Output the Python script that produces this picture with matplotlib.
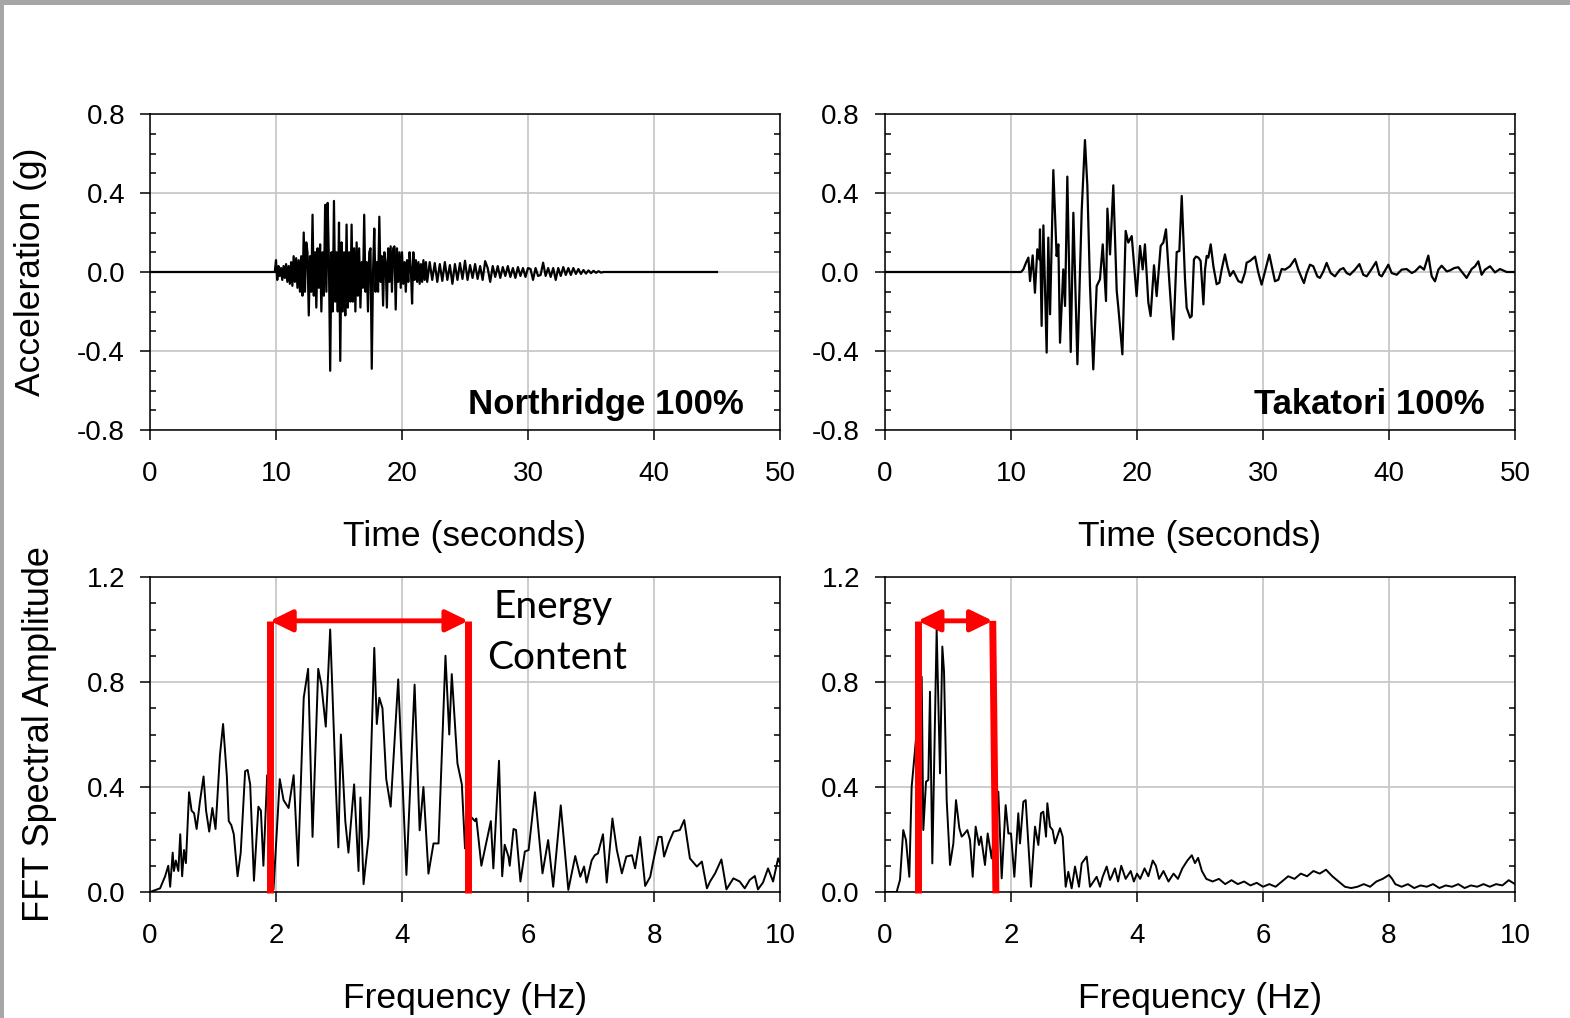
import numpy as np
import matplotlib
matplotlib.use("Agg")
import matplotlib.pyplot as plt
from matplotlib.ticker import MultipleLocator, FormatStrFormatter
from matplotlib.patches import Rectangle

plt.rcParams["font.family"] = ["Liberation Sans", "DejaVu Sans"]
plt.rcParams["axes.unicode_minus"] = False

# ---- Northridge acceleration (g) ----
nr_quiet_t = [0.0, 9.9]
nr_quiet_a = [0.0, 0.0]
# 10.0 s .. 22.0 s, every 0.1 s
nr_strong_a = [
    0.06, -0.04, 0.03, -0.02, 0.02, -0.04, 0.03, -0.03, 0.04, -0.05,
    0.03, -0.06, 0.05, -0.07, 0.08, -0.05, 0.07, -0.08, 0.06, -0.10,
    0.08, -0.12, 0.20, -0.10, 0.15, 0.10, -0.22, 0.08, -0.10, 0.29,
    -0.12, 0.10, -0.18, 0.12, -0.08, 0.14, -0.20, 0.10, -0.12, 0.34,
    -0.10, 0.35, 0.05, -0.50, 0.10, -0.20, 0.36, -0.15, 0.10, -0.20,
    0.25, -0.45, 0.15, -0.20, 0.10, -0.22, 0.24, -0.18, 0.10, -0.15,
    0.24, -0.15, 0.12, -0.20, 0.15, -0.12, 0.12, -0.18, 0.05, -0.08,
    0.29, -0.10, 0.05, -0.20, 0.10, 0.12, -0.49, 0.00, 0.22, -0.10,
    0.05, -0.10, 0.28, -0.05, 0.08, -0.17, 0.10, 0.05, -0.18, 0.12,
    -0.05, 0.13, -0.10, 0.12, 0.13, -0.19, 0.12, -0.05, 0.10, -0.08,
    0.10, -0.06, 0.05, -0.10, 0.06, -0.05, 0.10, 0.02, -0.16, 0.10,
    -0.04, 0.06, -0.05, 0.05, -0.06, 0.04, -0.05, 0.06, -0.04, 0.05,
    -0.05,
]
# 22.2 s .. 36.0 s, every 0.2 s
nr_coda_a = [
    0.05, -0.04, 0.045, -0.05, 0.04, -0.045, 0.05, -0.04, 0.035, -0.06,
    0.04, -0.04, 0.045, -0.035, 0.057, -0.04, 0.035, -0.03, 0.04, -0.035,
    0.03, -0.04, 0.055, 0.02, -0.05, 0.03, -0.025, 0.03, -0.03, 0.025,
    -0.02, 0.03, -0.025, 0.02, -0.03, 0.025, -0.02, 0.02, -0.025, 0.02,
    0.015, -0.04, 0.02, -0.02, -0.015, 0.047, -0.02, 0.02, -0.025, 0.02,
    -0.04, 0.02, -0.02, 0.025, -0.015, 0.02, -0.015, 0.02, -0.01, 0.015,
    -0.01, 0.01, -0.008, 0.008, -0.006, 0.006, -0.004, 0.004, -0.003, 0.0,
]
nr_end_t = [36.2, 45.0]
nr_end_a = [0.0, 0.0]

# ---- Takatori acceleration (g) ----
tk_t = [0.0, 10.8, 10.98, 11.19, 11.38, 11.51, 11.72, 11.90, 12.09, 12.25,
        12.30, 12.43, 12.57, 12.83, 12.96, 13.10, 13.36, 13.62, 13.76, 13.89,
        14.15, 14.29, 14.47, 14.74, 14.95, 15.27, 15.61, 15.87, 16.06, 16.27,
        16.53, 16.80, 17.06, 17.28, 17.54, 17.65, 17.86, 18.12, 18.39, 18.52,
        18.84, 19.10, 19.31, 19.58, 19.97, 20.24, 20.45, 20.63, 20.90, 21.08,
        21.35, 21.56, 21.88, 22.09, 22.30, 22.57, 22.88, 23.15, 23.36, 23.55,
        23.81, 23.94, 24.21, 24.34, 24.52, 24.68, 24.87, 25.05, 25.27, 25.40,
        25.53, 25.66, 25.85, 26.06, 26.32, 26.54, 26.72, 26.98, 27.17, 27.38,
        27.65, 28.04, 28.31, 28.57, 28.70, 28.97, 29.37, 29.63, 29.89, 30.50,
        30.95, 31.22, 31.48, 31.75, 32.14, 32.54, 32.80, 33.07, 33.25, 33.47,
        33.73, 33.99, 34.31, 34.52, 34.79, 35.05, 35.37, 35.71, 36.11, 36.38,
        36.64, 36.90, 37.30, 37.65, 37.96, 38.23, 38.62, 38.97, 39.23, 39.42,
        39.95, 40.21, 40.61, 41.01, 41.40, 41.80, 42.06, 42.46, 42.78, 43.12,
        43.39, 43.65, 43.92, 44.18, 44.58, 44.84, 45.18, 45.50, 45.85, 46.16,
        46.56, 46.83, 47.09, 47.35, 47.62, 48.02, 48.41, 48.81, 49.34, 50.0]
tk_a = [0.0, 0.0, 0.013, 0.047, 0.073, -0.046, 0.084, -0.105, 0.115, 0.064,
        0.216, -0.273, 0.236, -0.408, 0.174, -0.214, 0.516, 0.081, 0.14, -0.358,
        0.013, -0.172, 0.483, -0.405, 0.30, -0.467, 0.309, 0.668, 0.435, -0.071,
        -0.493, -0.071, -0.037, 0.14, -0.147, 0.321, 0.089, 0.439, -0.096, -0.181,
        -0.417, 0.208, 0.149, 0.182, -0.122, 0.132, 0.013, 0.14, -0.155, -0.223,
        0.034, -0.122, 0.132, 0.149, 0.216, -0.054, -0.341, 0.101, 0.106, 0.385,
        -0.037, -0.181, -0.231, -0.223, 0.064, 0.078, 0.073, 0.056, -0.164, 0.013,
        0.081, 0.073, 0.14, 0.03, -0.062, -0.054, 0.013, 0.089, 0.03, -0.02,
        0.005, -0.046, -0.054, -0.003, 0.047, 0.056, 0.078, -0.003, -0.064, 0.088,
        -0.047, -0.039, 0.015, 0.012, 0.029, 0.066, 0.012, -0.03, -0.056, -0.005,
        0.037, 0.029, -0.022, -0.03, 0.003, 0.046, -0.005, -0.022, 0.012, 0.02,
        -0.005, -0.014, 0.012, 0.04, -0.014, -0.022, 0.015, 0.051, -0.014, -0.022,
        0.037, -0.005, -0.014, 0.012, 0.015, -0.005, 0.003, 0.029, 0.012, 0.083,
        -0.022, -0.047, 0.012, 0.032, 0.003, 0.008, 0.02, 0.024, -0.005, -0.03,
        0.015, 0.029, 0.054, -0.014, 0.012, 0.029, -0.002, 0.015, 0.0, 0.0]

# ---- Fourier amplitude spectra ----
nr_f = [0.0, 0.16, 0.24, 0.29, 0.32, 0.36, 0.38, 0.41, 0.45, 0.48,
        0.51, 0.54, 0.57, 0.62, 0.66, 0.70, 0.74, 0.79, 0.85, 0.89,
        0.94, 0.99, 1.04, 1.11, 1.16, 1.22, 1.25, 1.29, 1.33, 1.39,
        1.44, 1.51, 1.55, 1.59, 1.65, 1.72, 1.76, 1.80, 1.86, 1.96,
        2.06, 2.12, 2.20, 2.28, 2.35, 2.44, 2.51, 2.58, 2.67, 2.72,
        2.79, 2.86, 2.95, 2.99, 3.03, 3.10, 3.15, 3.24, 3.31, 3.34,
        3.39, 3.47, 3.56, 3.60, 3.64, 3.69, 3.75, 3.82, 3.94, 4.07,
        4.20, 4.28, 4.34, 4.42, 4.50, 4.58, 4.69, 4.75, 4.79, 4.88,
        4.95, 5.00, 5.08, 5.16, 5.18, 5.26, 5.34, 5.41, 5.45, 5.54,
        5.59, 5.63, 5.69, 5.71, 5.77, 5.81, 5.88, 5.95, 6.01, 6.11,
        6.23, 6.32, 6.40, 6.52, 6.64, 6.75, 6.83, 6.89, 6.93, 7.01,
        7.06, 7.11, 7.19, 7.25, 7.34, 7.41, 7.49, 7.56, 7.65, 7.70,
        7.78, 7.86, 7.94, 7.99, 8.07, 8.12, 8.16, 8.23, 8.31, 8.41,
        8.48, 8.57, 8.68, 8.76, 8.84, 8.89, 8.97, 9.07, 9.15, 9.26,
        9.36, 9.44, 9.52, 9.60, 9.65, 9.73, 9.81, 9.89, 9.97, 10.0]
nr_amp = [0.0, 0.014, 0.06, 0.10, 0.02, 0.15, 0.08, 0.12, 0.08, 0.22,
          0.06, 0.16, 0.11, 0.38, 0.31, 0.30, 0.24, 0.34, 0.44, 0.31,
          0.23, 0.32, 0.24, 0.52, 0.64, 0.44, 0.27, 0.255, 0.22, 0.06,
          0.15, 0.46, 0.465, 0.41, 0.043, 0.325, 0.31, 0.10, 0.445, 0.01,
          0.43, 0.35, 0.32, 0.445, 0.10, 0.74, 0.85, 0.21, 0.85, 0.79,
          0.63, 1.00, 0.40, 0.17, 0.60, 0.27, 0.15, 0.41, 0.08, 0.36,
          0.03, 0.21, 0.93, 0.64, 0.74, 0.70, 0.43, 0.325, 0.81, 0.065,
          0.79, 0.235, 0.40, 0.07, 0.185, 0.185, 0.90, 0.60, 0.83, 0.49,
          0.41, 0.166, 0.29, 0.27, 0.28, 0.10, 0.19, 0.27, 0.09, 0.50,
          0.06, 0.18, 0.135, 0.10, 0.24, 0.236, 0.04, 0.154, 0.16, 0.38,
          0.071, 0.198, 0.02, 0.33, 0.008, 0.137, 0.058, 0.097, 0.036, 0.12,
          0.14, 0.147, 0.22, 0.036, 0.28, 0.16, 0.071, 0.135, 0.14, 0.09,
          0.21, 0.023, 0.058, 0.12, 0.21, 0.21, 0.135, 0.185, 0.23, 0.236,
          0.274, 0.128, 0.097, 0.116, 0.014, 0.04, 0.071, 0.124, 0.01, 0.052,
          0.04, 0.014, 0.046, 0.061, 0.01, 0.036, 0.09, 0.04, 0.128, 0.11]

tk_f = [0.0, 0.185, 0.238, 0.29, 0.333, 0.386, 0.423, 0.476, 0.582, 0.608,
        0.651, 0.688, 0.714, 0.751, 0.82, 0.873, 0.91, 0.937, 0.979, 1.032,
        1.085, 1.127, 1.18, 1.217, 1.243, 1.307, 1.349, 1.392, 1.439, 1.492,
        1.524, 1.587, 1.63, 1.693, 1.799, 1.852, 1.915, 1.958, 2.0, 2.053,
        2.116, 2.143, 2.196, 2.233, 2.317, 2.381, 2.434, 2.476, 2.513, 2.556,
        2.577, 2.619, 2.661, 2.698, 2.778, 2.82, 2.868, 2.91, 2.963, 3.016,
        3.079, 3.122, 3.201, 3.254, 3.36, 3.413, 3.455, 3.519, 3.571,
        3.60, 3.65, 3.70, 3.75, 3.82, 3.90, 3.95, 4.00, 4.05, 4.12,
        4.18, 4.25, 4.30, 4.35, 4.42, 4.50, 4.58, 4.65, 4.72, 4.80,
        4.87, 4.92, 4.97, 5.03, 5.10, 5.20, 5.30, 5.40, 5.50, 5.60,
        5.70, 5.80, 5.90, 6.00, 6.10, 6.20, 6.30, 6.40, 6.50, 6.60,
        6.70, 6.80, 6.90, 7.00, 7.10, 7.20, 7.30, 7.40, 7.50, 7.60,
        7.70, 7.80, 7.90, 8.00, 8.05, 8.10, 8.20, 8.30, 8.40, 8.50,
        8.60, 8.70, 8.80, 8.90, 9.00, 9.10, 9.20, 9.30, 9.40, 9.50,
        9.60, 9.70, 9.80, 9.90, 10.0]
tk_amp = [0.0, 0.0, 0.046, 0.236, 0.198, 0.058, 0.40, 0.54, 0.82, 0.236,
          0.42, 0.427, 0.763, 0.109, 1.0, 0.452, 0.935, 0.84, 0.35, 0.103,
          0.185, 0.35, 0.243, 0.211, 0.217, 0.236, 0.198, 0.058, 0.249, 0.179,
          0.211, 0.103, 0.223, 0.128, 0.382, 0.052, 0.331, 0.223, 0.223, 0.058,
          0.30, 0.185, 0.344, 0.35, 0.02, 0.249, 0.179, 0.30, 0.306, 0.211,
          0.338, 0.249, 0.236, 0.185, 0.243, 0.211, 0.02, 0.077, 0.014, 0.097,
          0.02, 0.109, 0.135, 0.02, 0.058, 0.02, 0.058, 0.097, 0.046,
          0.06, 0.09, 0.04, 0.10, 0.05, 0.08, 0.04, 0.07, 0.05, 0.09,
          0.06, 0.12, 0.10, 0.05, 0.08, 0.04, 0.07, 0.05, 0.09, 0.12,
          0.14, 0.11, 0.13, 0.08, 0.05, 0.04, 0.05, 0.03, 0.045, 0.03,
          0.04, 0.025, 0.035, 0.02, 0.03, 0.02, 0.04, 0.06, 0.05, 0.07,
          0.06, 0.08, 0.07, 0.085, 0.06, 0.04, 0.02, 0.015, 0.02, 0.03,
          0.02, 0.04, 0.05, 0.065, 0.05, 0.03, 0.02, 0.03, 0.015, 0.025,
          0.02, 0.03, 0.015, 0.025, 0.02, 0.03, 0.015, 0.025, 0.02, 0.03,
          0.02, 0.03, 0.025, 0.045, 0.03]

# energy content bands (Hz): (left, right at top, right at bottom)
nr_band = (1.905, 5.05, 5.05)
tk_band = (0.52, 1.71, 1.76)
band_top = 1.033

nr_t = np.concatenate([nr_quiet_t,
                       np.linspace(10.0, 22.0, len(nr_strong_a)),
                       np.linspace(22.2, 36.0, len(nr_coda_a)),
                       nr_end_t])
nr_a = np.concatenate([nr_quiet_a, nr_strong_a, nr_coda_a, nr_end_a])

fig = plt.figure(figsize=(15.7, 10.18), dpi=100)
W, H = 1570, 1018
ax_tl = fig.add_axes([150 / W, 1 - 430 / H, 630 / W, 316 / H])
ax_tr = fig.add_axes([885 / W, 1 - 430 / H, 630 / W, 316 / H])
ax_bl = fig.add_axes([150 / W, 1 - 892 / H, 630 / W, 315 / H])
ax_br = fig.add_axes([885 / W, 1 - 892 / H, 630 / W, 315 / H])


def style(ax, xmax, xstep, ymin, ymax, ystep, xlabel):
    ax.set_xlim(0, xmax)
    ax.set_ylim(ymin, ymax)
    ax.set_xticks(np.arange(0, xmax + 0.01, xstep))
    ax.set_yticks(np.arange(ymin, ymax + 0.01, ystep))
    ax.yaxis.set_minor_locator(MultipleLocator(0.1))
    ax.yaxis.set_major_formatter(FormatStrFormatter("%.1f"))
    ax.grid(True, which="major", color="#c8c8c8", lw=1.3)
    ax.set_axisbelow(True)
    ax.tick_params(axis="x", which="major", direction="out", length=7,
                   width=1.1, labelsize=20, pad=15)
    ax.tick_params(axis="y", which="major", direction="out", length=7,
                   width=1.1, labelsize=20, pad=11)
    ax.tick_params(axis="y", which="minor", direction="in", left=True,
                   right=True, length=4.5, width=1.1)
    for s in ax.spines.values():
        s.set_linewidth(1.1)
        s.set_color("black")
    ax.set_xlabel(xlabel, fontsize=25.5)
    ax.xaxis.set_label_coords(0.5, -0.285)


style(ax_tl, 50, 10, -0.8, 0.8, 0.4, "Time (seconds)")
style(ax_tr, 50, 10, -0.8, 0.8, 0.4, "Time (seconds)")
style(ax_bl, 10, 2, 0.0, 1.2, 0.4, "Frequency (Hz)")
style(ax_br, 10, 2, 0.0, 1.2, 0.4, "Frequency (Hz)")

ax_tl.plot(nr_t, nr_a, color="black", lw=1.6)
ax_tr.plot(tk_t, tk_a, color="black", lw=1.6)
ax_bl.plot(nr_f, nr_amp, color="black", lw=1.4)
ax_br.plot(tk_f, tk_amp, color="black", lw=1.4)

ax_tl.text(0.943, 0.082, "Northridge 100%", transform=ax_tl.transAxes,
           fontsize=25, fontweight="bold", ha="right", va="center")
ax_tr.text(0.952, 0.082, "Takatori 100%", transform=ax_tr.transAxes,
           fontsize=25, fontweight="bold", ha="right", va="center")

ax_bl.text(6.405, 1.086, "Energy", fontsize=28, family=["Lato", "DejaVu Sans"],
           ha="center", va="center")
ax_bl.text(6.468, 0.891, "Content", fontsize=28, family=["Lato", "DejaVu Sans"],
           ha="center", va="center")

for ax, (f0, f1_top, f1_bot) in [(ax_bl, nr_band), (ax_br, tk_band)]:
    ax.plot([f0, f0], [-0.005, band_top], color="red", lw=5,
            solid_capstyle="butt", clip_on=False, zorder=5)
    ax.plot([f1_bot, f1_top], [-0.005, band_top], color="red", lw=5,
            solid_capstyle="butt", clip_on=False, zorder=5)
    ax.annotate("", xy=(f1_top, band_top), xytext=(f0, band_top),
                arrowprops=dict(arrowstyle="<|-|>,head_length=0.45,head_width=0.22",
                                color="red", lw=3.5, mutation_scale=30,
                                shrinkA=0, shrinkB=0), zorder=6)

fig.text(31 / W, 1 - 272 / H, "Acceleration (g)", rotation=90, fontsize=25.5,
         ha="center", va="center")
fig.text(40 / W, 1 - 734 / H, "FFT Spectral Amplitude", rotation=90, fontsize=26,
         ha="center", va="center")

# grey frame on the top and left edge
fig.add_artist(Rectangle((0, 1 - 5 / H), 1, 5 / H, transform=fig.transFigure,
                         color="#a6a6a6", lw=0))
fig.add_artist(Rectangle((0, 0), 4 / W, 1, transform=fig.transFigure,
                         color="#a6a6a6", lw=0))

fig.savefig("out.png", dpi=100, facecolor="white")
